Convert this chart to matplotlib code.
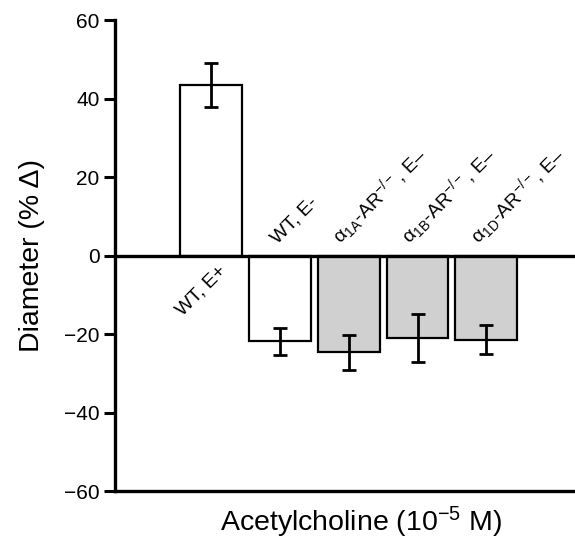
import numpy as np
import matplotlib
matplotlib.use('Agg')
import matplotlib.pyplot as plt

plt.rcParams['font.family'] = ['Liberation Sans', 'DejaVu Sans']
plt.rcParams['mathtext.fontset'] = 'custom'
plt.rcParams['mathtext.rm'] = 'Liberation Sans'
plt.rcParams['mathtext.it'] = 'Liberation Sans'

# data
groups = ['WT, E+', 'WT, E-',
          r'α$_{\mathrm{1A}}$-AR$^{-/-}$, E–',
          r'α$_{\mathrm{1B}}$-AR$^{-/-}$, E–',
          r'α$_{\mathrm{1D}}$-AR$^{-/-}$, E–']
means = [43.4, -21.9, -24.7, -21.1, -21.4]
sems = [5.6, 3.5, 4.5, 6.1, 3.7]
fills = ['white', 'white', '#d0d0d0', '#d0d0d0', '#d0d0d0']

x = np.arange(len(groups))

fig = plt.figure(figsize=(5.75, 5.48), dpi=100)
ax = fig.add_axes([0.2, 0.104, 0.8, 0.8595])

ax.bar(x, means, width=0.9, color=fills, edgecolor='black', linewidth=1.6, zorder=2)
ax.errorbar(x, means, yerr=sems, fmt='none', ecolor='black', elinewidth=2,
            capsize=5, capthick=2, zorder=3)
ax.axhline(0, color='black', linewidth=2.4, zorder=4)

# group labels, rotated 45 deg
ax.text(x[0] + 0.09, -1.8, groups[0], rotation=45, rotation_mode='anchor',
        ha='right', va='top', fontsize=14)
label_shift = [0, -0.04, -0.12, -0.12, -0.12]
for i in range(1, len(groups)):
    ax.text(x[i] + label_shift[i], 2.8, groups[i], rotation=45, rotation_mode='anchor',
            ha='left', va='baseline', fontsize=14)

ax.set_xlim(-1.40, 5.29)
ax.set_ylim(-60, 60)
ax.set_yticks(np.arange(-60, 61, 20))
ax.set_xticks([])
ax.tick_params(axis='y', direction='out', length=8, width=2.2, labelsize=15, pad=3)

for side in ['top', 'right']:
    ax.spines[side].set_visible(False)
for side in ['left', 'bottom']:
    ax.spines[side].set_linewidth(2.4)

ax.set_ylabel('Diameter (% Δ)', fontsize=20.5, labelpad=14)
ax.set_xlabel(r'Acetylcholine (10$^{-5}$ M)', fontsize=20.5)
ax.xaxis.set_label_coords(0.535, -0.03)

plt.savefig('out.png', dpi=100)
